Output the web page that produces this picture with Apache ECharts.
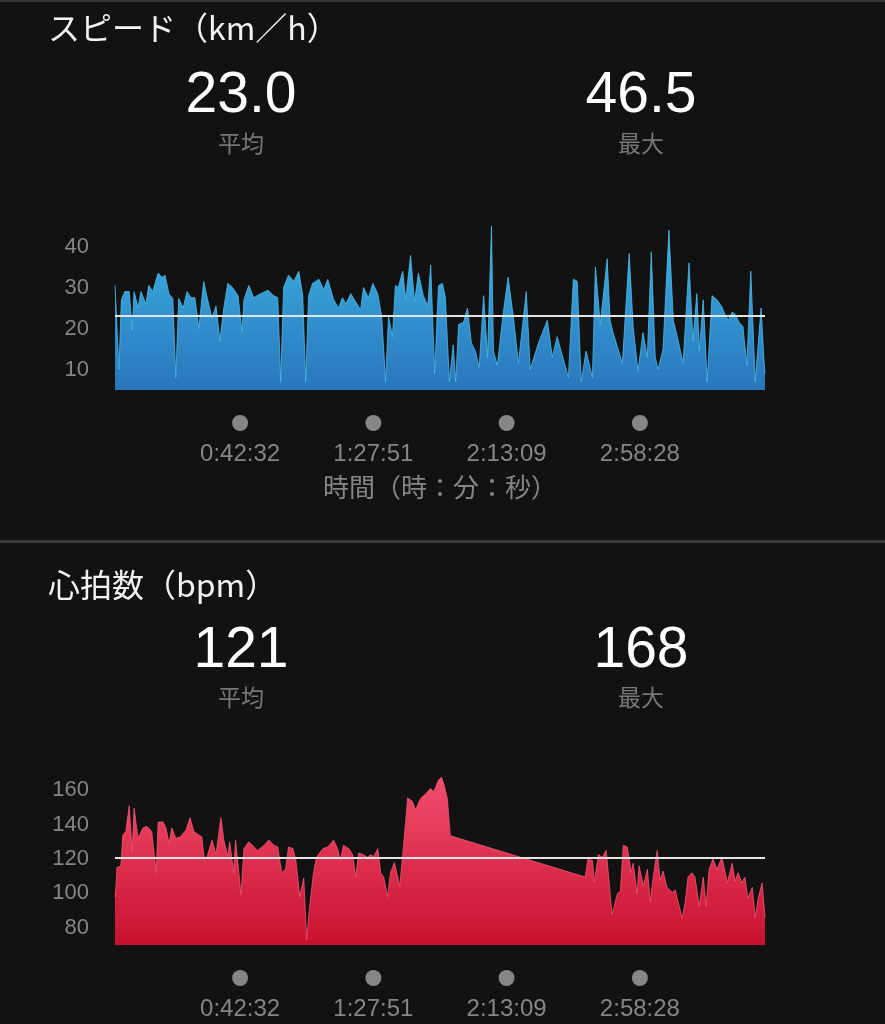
<!DOCTYPE html>
<html>
<head>
<meta charset="utf-8">
<script src="https://cdn.jsdelivr.net/npm/echarts@6/dist/echarts.min.js"></script>
<style>
  html, body { margin: 0; padding: 0; background: #131213; }
  #chart { width: 885px; height: 1024px; }
</style>
</head>
<body>
<div id="chart"></div>
<script>
// elapsed time in seconds, speed in km/h
const speedTime = [0,40,80,130,200,290,350,390,470,530,630,690,770,880,960,1020,1100,1180,1240,1300,1390,1470,1550,1630,1710,1810,1890,1980,2060,2140,2220,2300,2400,2510,2590,2630,2730,2830,2970,3120,3240,3320,3380,3440,3540,3650,3750,3830,3890,3950,4030,4160,4260,4340,4460,4560,4640,4710,4810,4910,5010,5070,5170,5260,5360,5440,5520,5580,5660,5720,5780,5870,5930,6030,6110,6190,6290,6380,6440,6520,6600,6680,6740,6820,6900,6950,7010,7110,7190,7270,7350,7430,7520,7600,7680,7720,7800,7920,8020,8130,8230,8390,8470,8640,8820,8920,9020,9250,9350,9430,9510,9610,9740,9800,9900,10040,10100,10160,10350,10490,10570,10670,10770,10860,10940,11020,11080,11180,11300,11390,11470,11590,11710,11790,11870,11920,12000,12080,12180,12280,12380,12440,12510,12590,12650,12730,12810,12890,12970,13060,13180,13240,13260]
const speedValue = [30.5,30.7,10,27,29,29,19.6,29,25,29,26,30.5,29,33.5,32.5,33,28.5,27.3,8,27.3,25,29,27.5,27.5,20,31.5,27,22.5,25.5,17,25,31,30,28,19,27,30.5,27.5,28.5,29.3,28,27.5,7,30,33,31.5,34,28,7,28,31,32,29.5,32,27,25,27.5,26,28.5,26.5,24.5,30,27.5,31,28.5,23,7,23,18,30.5,30,34,27,37.8,26.5,33.5,28,25.5,35.5,9,30.5,31,27.5,7,16,7,21,21.5,25,16.5,14.5,10.5,28,13,45,14.5,11,23.7,32.5,22.5,11.5,29,10,16.5,22,13,18,8,32,31.5,7,14.5,8,35,21,37,22,19,11.5,38.3,20.5,9.5,19,13,38.7,13,10,15,44,22,18,11.5,36,17,28.5,14.5,27,7,28,27,25.3,23.5,22,24,23.5,21.5,20.5,11,34,7,25,12,9]

// elapsed time in seconds, heart rate in bpm
const heartTime = [0,20,40,120,160,220,290,350,390,470,570,650,750,840,880,980,1040,1100,1160,1240,1340,1450,1530,1610,1710,1770,1830,1890,1980,2060,2160,2220,2300,2340,2420,2460,2570,2630,2730,2910,3040,3140,3240,3320,3400,3480,3540,3630,3690,3770,3850,3910,3970,4050,4110,4240,4340,4460,4540,4600,4660,4770,4850,4910,4970,5070,5150,5210,5280,5360,5420,5480,5560,5620,5700,5810,5890,5970,6070,6130,6230,6340,6440,6500,6600,6660,6720,6780,6840,9590,9650,9740,9780,9860,9940,10020,10140,10250,10310,10370,10450,10530,10570,10650,10690,10780,10860,10920,10980,11060,11120,11180,11260,11370,11430,11490,11570,11630,11690,11770,11830,11920,12000,12060,12120,12200,12280,12380,12450,12490,12590,12650,12710,12790,12850,12910,13000,13060,13120,13200,13260]
const heartValue = [98,104,115,116,134,136,151,124,149.5,132,138,139,136,112,141.5,141.5,138,129,138,132,133,137,144,136,134,133,118,122.5,131,122.5,144,131,121.5,130,112,131,99,126,130,125,128,131,128,127,112,114,127,126,119,98,109,73,92,112,121,126,127,131,126,119,128,126,122.5,109.5,123.5,122.5,121,122.5,121.5,126,112,109.5,98,112,118,104,129,155.5,153.5,148.5,155,158,161,159,166,167.5,162.5,155,133.5,109.5,120,119,106.6,122.5,121,125,87.5,100,101,128,127,112,117.5,100,116,104.5,114,95,109.5,125,107.5,113,103.5,100.5,102,94.5,85.5,94.5,109.5,112,109.5,92.5,109.5,92.5,114,120,114,121,112,106,117.5,107,112,106,109.5,97,103.5,86,97,106,86]

const timeTicks = [2552, 5271, 7989, 10708]
const speedTicks = [10, 20, 30, 40]
const heartTicks = [80, 100, 120, 140, 160]
const totalTime = 13260

const speedAvg = 23.0
const speedMax = 46.5
const heartAvg = 121
const heartMax = 168

const LATIN = "'Liberation Sans', 'Noto Sans CJK JP', sans-serif"
const CJK = "'Noto Sans CJK JP', sans-serif"
const GREY = '#868686'

function fmtTime(sec) {
  const h = Math.floor(sec / 3600)
  const m = Math.floor((sec % 3600) / 60)
  const s = Math.round(sec % 60)
  return h + ':' + String(m).padStart(2, '0') + ':' + String(s).padStart(2, '0')
}

function timeAxis(gridIndex, name) {
  return {
    type: 'value',
    gridIndex,
    min: 0,
    max: totalTime,
    axisLine: { show: false },
    axisTick: { show: false },
    splitLine: { show: false },
    name: name || '',
    nameLocation: 'middle',
    nameGap: 84,
    nameTextStyle: { color: GREY, fontSize: 26, fontFamily: CJK },
    axisLabel: {
      customValues: timeTicks,
      margin: 23,
      formatter: v => '{d|}\n{t|' + fmtTime(v) + '}',
      rich: {
        d: { width: 16, height: 16, borderRadius: 8, backgroundColor: GREY, lineHeight: 20 },
        t: { fontSize: 24, color: GREY, lineHeight: 42, fontFamily: LATIN }
      }
    }
  }
}

function valueAxis(gridIndex, min, max, ticks) {
  return {
    type: 'value',
    gridIndex,
    min,
    max,
    axisLine: { show: false },
    axisTick: { show: false },
    splitLine: { show: false },
    axisLabel: {
      customValues: ticks,
      color: GREY,
      fontSize: 22,
      fontFamily: LATIN,
      margin: 26
    }
  }
}

function areaSeries(idx, times, values, avg, lineColor, topColor, bottomColor) {
  return {
    type: 'line',
    xAxisIndex: idx,
    yAxisIndex: idx,
    data: times.map((t, i) => [t, values[i]]),
    showSymbol: false,
    lineStyle: { width: 0.8, color: lineColor },
    areaStyle: {
      opacity: 1,
      origin: 'start',
      color: new echarts.graphic.LinearGradient(0, 0, 0, 1, [
        { offset: 0, color: topColor },
        { offset: 1, color: bottomColor }
      ])
    },
    markLine: {
      silent: true,
      symbol: 'none',
      label: { show: false },
      lineStyle: { color: '#e4e4e4', width: 2, type: 'solid' },
      data: [{ yAxis: avg }]
    }
  }
}

function text(str, x, y, size, color, font) {
  return {
    type: 'text',
    x, y,
    style: {
      text: str,
      fill: color,
      font: size + 'px ' + font,
      align: 'center',
      verticalAlign: 'middle',
      textAlign: 'center',
      textVerticalAlign: 'middle'
    }
  }
}

function leftText(str, x, y, size) {
  return {
    type: 'text',
    x, y,
    style: {
      text: str,
      fill: '#f2f2f2',
      font: size + 'px ' + CJK,
      align: 'left',
      verticalAlign: 'middle',
      textAlign: 'left',
      textVerticalAlign: 'middle'
    }
  }
}

const chart = echarts.init(document.getElementById('chart'))

chart.setOption({
  backgroundColor: '#131213',
  animation: false,
  grid: [
    { left: 115, right: 120, top: 226, height: 164 },
    { left: 115, right: 120, top: 773, height: 172 }
  ],
  xAxis: [
    timeAxis(0, '時間（時：分：秒）'),
    timeAxis(1)
  ],
  yAxis: [
    valueAxis(0, 5, 45, speedTicks),
    valueAxis(1, 70, 170, heartTicks)
  ],
  series: [
    areaSeries(0, speedTime, speedValue, speedAvg, '#4cbcec', '#3db4e6', '#2a76bb'),
    areaSeries(1, heartTime, heartValue, heartAvg, '#f25573', '#f24e6d', '#c8112f')
  ],
  graphic: [
    { type: 'rect', shape: { x: 0, y: 0, width: 885, height: 2 }, style: { fill: '#343434' } },
    { type: 'rect', shape: { x: 0, y: 540, width: 885, height: 3 }, style: { fill: '#3a3a3a' } },
    leftText('スピード（km／h）', 48, 28, 32),
    text(speedAvg.toFixed(1), 241, 96, 57, '#ffffff', LATIN),
    text('平均', 241, 143, 23, '#777777', CJK),
    text(speedMax.toFixed(1), 641, 96, 57, '#ffffff', LATIN),
    text('最大', 641, 143, 23, '#777777', CJK),
    leftText('心拍数（bpm）', 48, 585, 32),
    text(String(heartAvg), 241, 651, 57, '#ffffff', LATIN),
    text('平均', 241, 697, 23, '#777777', CJK),
    text(String(heartMax), 641, 651, 57, '#ffffff', LATIN),
    text('最大', 641, 697, 23, '#777777', CJK)
  ]
})
</script>
</body>
</html>
